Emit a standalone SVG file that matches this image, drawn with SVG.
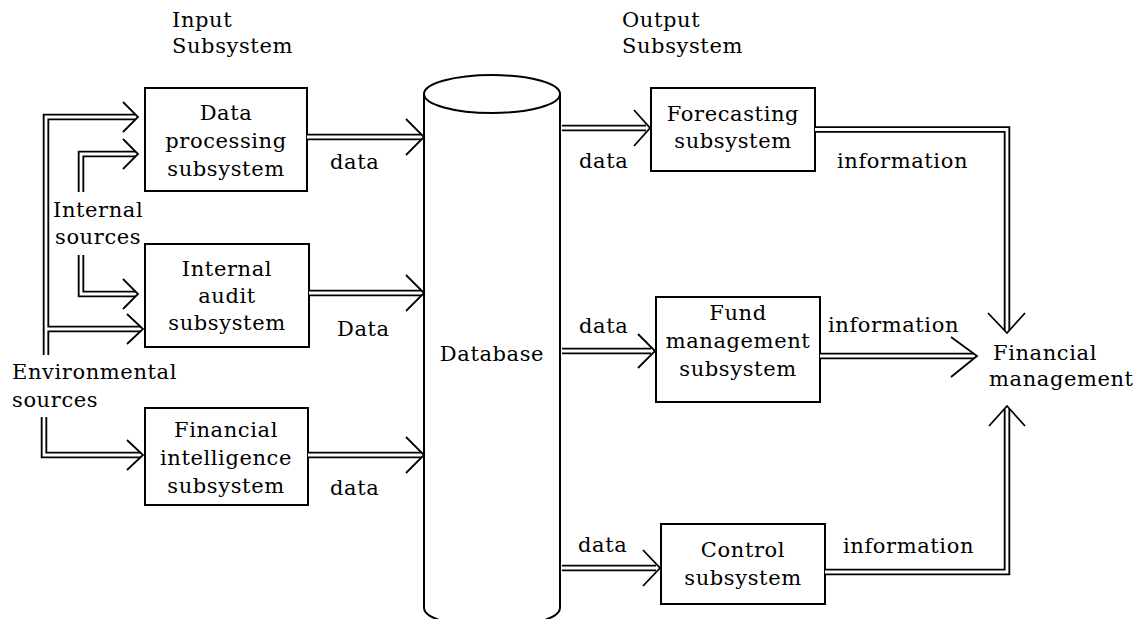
<svg xmlns="http://www.w3.org/2000/svg" xmlns:xlink="http://www.w3.org/1999/xlink" width="1146" height="619" viewBox="0 0 1146 619">
<style>
text{font-family:"DejaVu Serif","Liberation Serif",serif;font-size:21px;fill:#000;letter-spacing:0.6px}
.c{text-anchor:middle}
.box{fill:#fff;stroke:#000;stroke-width:2}
.o{fill:none;stroke:#000;stroke-width:6.5}
.i{fill:none;stroke:#fff;stroke-width:2.8}
.h{fill:none;stroke:#000;stroke-width:1.8;stroke-linejoin:miter}
</style>
<defs>
<path id="e1" d="M46,355 V117 H135"/>
<path id="e2" d="M46,329 H141"/>
<path id="i1" d="M81,192 V154 H136"/>
<path id="i2" d="M81,255 V294 H136"/>
<path id="e3" d="M44,417 V455 H141"/>
<path id="a1" d="M307,137 H421"/>
<path id="a2" d="M309,293 H421"/>
<path id="a3" d="M308,455 H421"/>
<path id="b1" d="M562,128 H646"/>
<path id="b2" d="M562,351 H651"/>
<path id="b3" d="M562,568 H656"/>
<path id="c1" d="M815,129.5 H1007 V330"/>
<path id="c2" d="M820,356 H974"/>
<path id="c3" d="M825,572 H1007 V409"/>
</defs>

<g id="titles">
<text x="172" y="27">Input</text>
<text x="172" y="53">Subsystem</text>
<text x="622" y="27">Output</text>
<text x="622" y="53">Subsystem</text>
</g>

<g id="database">
<path d="M424,94 V608 A68,19 0 0 0 560,608 V94" fill="#fff" stroke="#000" stroke-width="2"/>
<ellipse cx="492" cy="94" rx="68" ry="19" fill="#fff" stroke="#000" stroke-width="2"/>
<text class="c" x="492" y="361">Database</text>
</g>

<g id="data-processing">
<rect class="box" x="145" y="88" width="162" height="103"/>
<text class="c" x="226" y="120">Data</text>
<text class="c" x="226" y="148">processing</text>
<text class="c" x="226" y="176">subsystem</text>
</g>
<g id="internal-audit">
<rect class="box" x="145" y="244" width="164" height="103"/>
<text class="c" x="227" y="276">Internal</text>
<text class="c" x="227" y="303">audit</text>
<text class="c" x="227" y="330">subsystem</text>
</g>
<g id="financial-intelligence">
<rect class="box" x="145" y="408" width="163" height="97"/>
<text class="c" x="226" y="437">Financial</text>
<text class="c" x="226" y="465">intelligence</text>
<text class="c" x="226" y="493">subsystem</text>
</g>
<g id="forecasting">
<rect class="box" x="651" y="88" width="164" height="83"/>
<text class="c" x="733" y="121">Forecasting</text>
<text class="c" x="733" y="148">subsystem</text>
</g>
<g id="fund-management">
<rect class="box" x="656" y="297" width="164" height="105"/>
<text class="c" x="738" y="320">Fund</text>
<text class="c" x="738" y="348">management</text>
<text class="c" x="738" y="376">subsystem</text>
</g>
<g id="control">
<rect class="box" x="661" y="524" width="164" height="80"/>
<text class="c" x="743" y="557">Control</text>
<text class="c" x="743" y="585">subsystem</text>
</g>

<g id="internal-sources">
<text x="53" y="217">Internal</text>
<text x="55" y="244">sources</text>
</g>
<g id="environmental-sources">
<text x="12" y="379">Environmental</text>
<text x="12" y="407">sources</text>
</g>
<g id="financial-management">
<text x="993" y="360">Financial</text>
<text x="989" y="386">management</text>
</g>

<g id="connectors">
<use xlink:href="#e1" class="o"/><use xlink:href="#e2" class="o"/><use xlink:href="#i1" class="o"/><use xlink:href="#i2" class="o"/><use xlink:href="#e3" class="o"/>
<use xlink:href="#a1" class="o"/><use xlink:href="#a2" class="o"/><use xlink:href="#a3" class="o"/>
<use xlink:href="#b1" class="o"/><use xlink:href="#b2" class="o"/><use xlink:href="#b3" class="o"/>
<use xlink:href="#c1" class="o"/><use xlink:href="#c2" class="o"/><use xlink:href="#c3" class="o"/>
<use xlink:href="#e1" class="i"/><use xlink:href="#e2" class="i"/><use xlink:href="#i1" class="i"/><use xlink:href="#i2" class="i"/><use xlink:href="#e3" class="i"/>
<use xlink:href="#a1" class="i"/><use xlink:href="#a2" class="i"/><use xlink:href="#a3" class="i"/>
<use xlink:href="#b1" class="i"/><use xlink:href="#b2" class="i"/><use xlink:href="#b3" class="i"/>
<use xlink:href="#c1" class="i"/><use xlink:href="#c2" class="i"/><use xlink:href="#c3" class="i"/>
<polyline class="h" points="123,102 138,117 123,132"/>
<polyline class="h" points="123,139 138,154 123,169"/>
<polyline class="h" points="123,279 138,294 123,309"/>
<polyline class="h" points="127,314 143,329 127,344"/>
<polyline class="h" points="127,440 143,455 127,470"/>
<polyline class="h" points="406,119 424,137 406,155"/>
<polyline class="h" points="406,275 424,293 406,311"/>
<polyline class="h" points="406,437 424,455 406,473"/>
<polyline class="h" points="634,110 650,128 634,146"/>
<polyline class="h" points="638,334 655,351 638,368"/>
<polyline class="h" points="643,550 660,568 643,586"/>
<polyline class="h" points="988,313 1007,333 1025,313"/>
<polyline class="h" points="951,337 977,356 951,377"/>
<polyline class="h" points="989,426 1007,406 1025,426"/>
</g>

<g id="edge-labels">
<text x="330" y="169">data</text>
<text x="337" y="336">Data</text>
<text x="330" y="495">data</text>
<text x="579" y="168">data</text>
<text x="579" y="333">data</text>
<text x="578" y="552">data</text>
<text x="837" y="168">information</text>
<text x="828" y="332">information</text>
<text x="843" y="553">information</text>
</g>
</svg>
